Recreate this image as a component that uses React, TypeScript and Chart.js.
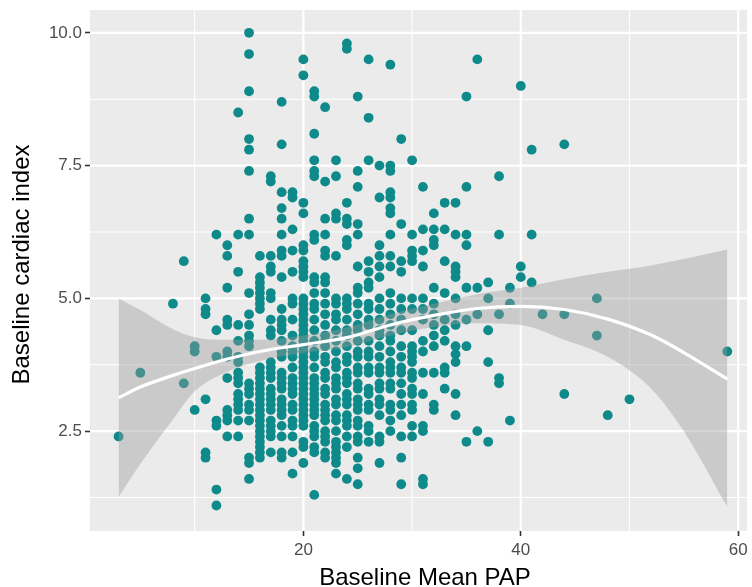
import React, { useEffect, useRef } from 'react';
import { Chart, registerables } from 'chart.js';

Chart.register(...registerables);

// ---- axis ticks / grid ----
const xTicks = [20, 40, 60];
const xMinorGrid = [10, 30, 50];
const yTicks = [2.5, 5.0, 7.5, 10.0];
const yMinorGrid = [1.25, 3.75, 6.25, 8.75];

const xTitle = 'Baseline Mean PAP';
const yTitle = 'Baseline cardiac index';

// ---- scatter data: baseline mean PAP columns and the cardiac index values at each ----
const columnPap = [3, 5, 8, 9, 10, 11, 12, 13, 14, 15, 16, 17, 18, 19, 20, 21, 22, 23, 24, 25, 26, 27, 28, 29, 30, 31, 32, 33, 34, 35, 36, 37, 38, 39, 40, 41, 42, 44, 47, 48, 50, 59];
const columnCI: number[][] = [
  [2.4],
  [3.6],
  [4.9],
  [5.7, 3.4],
  [4.1, 4.0, 2.9],
  [5.0, 4.8, 4.7, 3.1, 2.1, 2.0],
  [6.2, 4.4, 3.9, 2.7, 2.6, 1.4, 1.1],
  [6.0, 5.8, 5.2, 4.6, 4.5, 4.0, 3.9, 3.5, 2.9, 2.8, 2.7, 2.4],
  [8.5, 6.2, 5.5, 4.5, 4.2, 3.9, 3.8, 3.6, 3.5, 3.4, 3.2, 3.1, 3.0, 2.9, 2.7, 2.4],
  [10.0, 9.6, 8.9, 8.0, 7.8, 7.4, 6.5, 6.2, 5.1, 4.7, 4.5, 4.3, 4.2, 4.1, 3.4, 3.3, 3.2, 3.0, 2.9, 2.7, 2.0, 1.9, 1.6],
  [5.8, 5.4, 5.3, 5.2, 5.1, 5.0, 4.9, 4.8, 3.7, 3.6, 3.5, 3.4, 3.3, 3.2, 3.1, 3.0, 2.9, 2.8, 2.7, 2.6, 2.5, 2.4, 2.3, 2.2, 2.1, 2.0],
  [7.3, 7.2, 5.8, 5.6, 5.5, 5.1, 5.0, 4.6, 4.4, 4.3, 3.8, 3.7, 3.6, 3.5, 3.3, 3.2, 3.1, 3.0, 2.9, 2.7, 2.6, 2.5, 2.4, 2.1],
  [8.7, 7.9, 7.0, 6.7, 6.5, 6.2, 5.9, 5.8, 5.4, 4.8, 4.6, 4.5, 4.4, 4.2, 4.0, 3.9, 3.6, 3.5, 3.4, 3.3, 3.1, 3.0, 2.9, 2.8, 2.6, 2.4, 2.1, 2.0],
  [7.0, 6.9, 6.3, 5.9, 5.5, 5.0, 4.9, 4.6, 4.3, 4.1, 4.0, 3.9, 3.7, 3.5, 3.4, 3.3, 3.2, 3.0, 2.9, 2.7, 2.6, 2.4, 2.1, 1.7],
  [9.5, 9.2, 6.8, 6.6, 6.0, 5.9, 5.7, 5.6, 5.5, 5.4, 5.0, 4.9, 4.8, 4.7, 4.6, 4.5, 4.4, 4.3, 4.2, 4.1, 4.0, 3.9, 3.8, 3.7, 3.6, 3.5, 3.4, 3.3, 3.2, 3.1, 3.0, 2.9, 2.8, 2.7, 2.6, 2.3, 2.2, 1.9],
  [8.9, 8.8, 8.1, 7.6, 7.4, 7.3, 6.2, 6.1, 5.4, 5.3, 5.1, 4.9, 4.8, 4.6, 4.4, 4.2, 4.0, 3.9, 3.7, 3.5, 3.4, 3.3, 3.2, 3.1, 3.0, 2.9, 2.8, 2.6, 2.5, 2.4, 2.2, 2.1, 1.3],
  [8.6, 7.2, 6.5, 6.2, 5.9, 5.8, 5.4, 5.3, 5.1, 4.9, 4.7, 4.5, 4.3, 4.2, 4.1, 3.9, 3.8, 3.6, 3.5, 3.3, 3.2, 3.0, 2.9, 2.8, 2.7, 2.5, 2.4, 2.3, 2.1, 2.0],
  [7.6, 7.3, 6.6, 6.5, 5.8, 5.0, 4.9, 4.7, 4.6, 4.4, 4.2, 4.0, 3.8, 3.7, 3.5, 3.4, 3.3, 3.1, 3.0, 2.8, 2.7, 2.5, 2.3, 2.2, 2.1, 2.0, 1.9, 1.7],
  [9.8, 9.7, 6.8, 6.5, 6.4, 6.1, 6.0, 5.0, 4.9, 4.8, 4.6, 4.4, 4.3, 4.1, 3.9, 3.8, 3.6, 3.5, 3.4, 3.2, 3.1, 3.0, 2.8, 2.7, 2.6, 2.4, 2.2, 1.6],
  [8.8, 7.4, 7.1, 6.4, 6.2, 5.6, 5.2, 5.1, 4.9, 4.7, 4.5, 4.4, 4.2, 4.0, 3.9, 3.7, 3.6, 3.4, 3.3, 3.1, 3.0, 2.9, 2.7, 2.6, 2.4, 2.3, 2.0, 1.8, 1.5],
  [9.5, 8.4, 7.6, 5.7, 5.5, 5.3, 5.2, 4.9, 4.8, 4.6, 4.5, 4.2, 4.0, 3.9, 3.7, 3.6, 3.3, 3.2, 3.0, 2.9, 2.6, 2.5, 2.3],
  [7.5, 6.9, 6.0, 5.8, 5.6, 5.4, 5.0, 4.8, 4.6, 4.4, 4.3, 4.1, 3.9, 3.7, 3.6, 3.4, 3.3, 3.1, 3.0, 2.8, 2.4, 2.3, 1.9],
  [9.4, 7.5, 7.4, 7.0, 6.9, 6.7, 6.6, 6.2, 5.8, 5.6, 5.1, 4.9, 4.7, 4.5, 4.3, 4.2, 4.0, 3.8, 3.7, 3.6, 3.4, 3.3, 3.0, 2.9, 2.7, 2.5],
  [8.0, 6.4, 5.7, 5.5, 5.0, 4.8, 4.6, 4.4, 4.1, 3.9, 3.7, 3.6, 3.4, 3.2, 3.0, 2.8, 2.4, 2.0, 1.5],
  [7.6, 6.2, 5.9, 5.8, 5.7, 5.0, 4.8, 4.4, 4.1, 4.0, 3.9, 3.8, 3.6, 3.5, 3.3, 3.2, 3.0, 2.9, 2.6, 2.4],
  [7.1, 6.3, 5.9, 5.6, 5.0, 4.8, 4.6, 4.2, 4.0, 3.6, 3.2, 2.6, 2.5, 1.6, 1.5],
  [6.6, 6.3, 6.1, 6.0, 5.2, 4.9, 4.7, 4.5, 4.3, 4.1, 3.6, 3.0, 2.9],
  [6.8, 6.3, 5.7, 5.1, 4.6, 4.4, 4.2, 3.7, 3.6, 3.3],
  [6.8, 6.2, 5.6, 5.5, 5.4, 5.0, 4.7, 4.5, 4.1, 3.95, 3.8, 3.2, 2.8],
  [8.8, 7.1, 6.2, 6.0, 5.2, 4.6, 4.1, 2.3],
  [9.5, 5.2, 4.7, 2.5],
  [5.3, 5.0, 4.4, 3.8, 2.3],
  [7.3, 6.2, 4.7, 3.5, 3.4],
  [5.2, 4.9, 2.7],
  [9.0, 5.6, 5.4],
  [7.8, 6.2, 5.3],
  [4.7],
  [7.9, 4.7, 3.2],
  [5.0, 4.3],
  [2.8],
  [3.1],
  [4.0],
];

// ---- loess smooth and its confidence band ----
const smoothPap = [3, 5, 8, 10, 13, 16, 20, 24, 28, 32, 36, 40, 44, 48, 52, 55, 59];
const smoothFit = [3.13, 3.33, 3.55, 3.68, 3.86, 4.0, 4.13, 4.26, 4.5, 4.68, 4.81, 4.85, 4.79, 4.61, 4.31, 3.98, 3.48];
const smoothUpper = [5.0, 4.78, 4.42, 4.27, 4.22, 4.22, 4.3, 4.45, 4.7, 4.9, 5.08, 5.2, 5.36, 5.5, 5.62, 5.74, 5.92];
const smoothLower = [1.26, 1.88, 2.72, 3.25, 3.62, 3.82, 3.97, 4.08, 4.3, 4.46, 4.53, 4.5, 4.22, 3.9, 3.3, 2.5, 1.07];

const FONT = '"Liberation Sans", Arial, Helvetica, sans-serif';

const panelPlugin = {
  id: 'ggPanel',
  beforeDraw(chart: any) {
    const { ctx, chartArea: a, scales } = chart;
    const xs = scales.x;
    const ys = scales.y;
    ctx.save();
    ctx.fillStyle = '#FFFFFF';
    ctx.fillRect(0, 0, chart.width, chart.height);
    ctx.fillStyle = '#EBEBEB';
    ctx.fillRect(a.left, a.top, a.right - a.left, a.bottom - a.top);
    ctx.strokeStyle = '#FFFFFF';
    const vline = (v: number) => {
      const p = xs.getPixelForValue(v);
      ctx.beginPath();
      ctx.moveTo(p, a.top);
      ctx.lineTo(p, a.bottom);
      ctx.stroke();
    };
    const hline = (v: number) => {
      const p = ys.getPixelForValue(v);
      ctx.beginPath();
      ctx.moveTo(a.left, p);
      ctx.lineTo(a.right, p);
      ctx.stroke();
    };
    ctx.lineWidth = 1.1;
    xMinorGrid.forEach(vline);
    yMinorGrid.forEach(hline);
    ctx.lineWidth = 2.2;
    xTicks.forEach(vline);
    yTicks.forEach(hline);
    ctx.restore();
  },
  afterDraw(chart: any) {
    const { ctx, chartArea: a } = chart;
    ctx.save();
    ctx.fillStyle = '#000000';
    ctx.font = `24px ${FONT}`;
    ctx.textAlign = 'center';
    ctx.textBaseline = 'alphabetic';
    ctx.fillText(xTitle, 425, 585);
    ctx.translate(29, (a.top + a.bottom) / 2 - 6);
    ctx.rotate(-Math.PI / 2);
    ctx.fillText(yTitle, 0, 0);
    ctx.restore();
  },
};

export default function App() {
  const canvasRef = useRef<HTMLCanvasElement | null>(null);

  useEffect(() => {
    const canvas = canvasRef.current;
    if (!canvas) return;
    const points = columnPap.flatMap((x, i) => columnCI[i].map((y) => ({ x, y })));
    const fitPts = smoothPap.map((x, i) => ({ x, y: smoothFit[i] }));
    const upperPts = smoothPap.map((x, i) => ({ x, y: smoothUpper[i] }));
    const lowerPts = smoothPap.map((x, i) => ({ x, y: smoothLower[i] }));

    const chart = new Chart(canvas, {
      type: 'scatter',
      data: {
        datasets: [
          {
            label: 'fit',
            data: fitPts,
            showLine: true,
            borderColor: '#FFFFFF',
            borderWidth: 3.2,
            pointRadius: 0,
            cubicInterpolationMode: 'monotone',
            fill: false,
            order: 1,
          } as any,
          {
            label: 'upper',
            data: upperPts,
            showLine: true,
            borderWidth: 0,
            borderColor: 'rgba(0,0,0,0)',
            backgroundColor: 'rgba(153,153,153,0.4)',
            pointRadius: 0,
            cubicInterpolationMode: 'monotone',
            fill: '+1',
            order: 2,
          } as any,
          {
            label: 'lower',
            data: lowerPts,
            showLine: true,
            borderWidth: 0,
            borderColor: 'rgba(0,0,0,0)',
            pointRadius: 0,
            cubicInterpolationMode: 'monotone',
            fill: false,
            order: 2,
          } as any,
          {
            label: 'patients',
            data: points,
            backgroundColor: '#0F8A8A',
            borderWidth: 0,
            pointRadius: 4.9,
            order: 3,
          } as any,
        ],
      },
      options: {
        responsive: false,
        animation: false,
        devicePixelRatio: 1,
        layout: { padding: { top: 10, left: 0, right: 0, bottom: 0 } },
        plugins: {
          legend: { display: false },
          tooltip: { enabled: false },
        },
        scales: {
          x: {
            type: 'linear',
            min: 0.37,
            max: 60.82,
            afterBuildTicks: (scale: any) => {
              scale.ticks = xTicks.map((v) => ({ value: v }));
            },
            afterFit: (scale: any) => {
              scale.height = 56;
              scale.paddingLeft = 0;
              scale.paddingRight = 0;
            },
            ticks: {
              color: '#4D4D4D',
              font: { family: FONT, size: 17 },
              padding: 4,
              callback: (v: any) => String(v),
            },
            grid: {
              display: true,
              drawOnChartArea: false,
              drawTicks: true,
              tickLength: 5,
              tickColor: '#333333',
              tickWidth: 1.6,
            },
            border: { display: false },
          },
          y: {
            type: 'linear',
            min: 0.62,
            max: 10.43,
            afterBuildTicks: (scale: any) => {
              scale.ticks = yTicks.map((v) => ({ value: v }));
            },
            afterFit: (scale: any) => {
              scale.width = 90;
              scale.paddingTop = 0;
              scale.paddingBottom = 0;
            },
            ticks: {
              color: '#4D4D4D',
              font: { family: FONT, size: 17 },
              padding: 3,
              callback: (v: any) => Number(v).toFixed(1),
            },
            grid: {
              display: true,
              drawOnChartArea: false,
              drawTicks: true,
              tickLength: 5,
              tickColor: '#333333',
              tickWidth: 1.6,
            },
            border: { display: false },
          },
        },
      } as any,
      plugins: [panelPlugin],
    });
    return () => chart.destroy();
  }, []);

  return (
    <div style={{ position: 'fixed', left: 0, top: 0, width: 752, height: 587 }}>
      <canvas ref={canvasRef} width={752} height={587} style={{ display: 'block', width: 752, height: 587 }} />
    </div>
  );
}
